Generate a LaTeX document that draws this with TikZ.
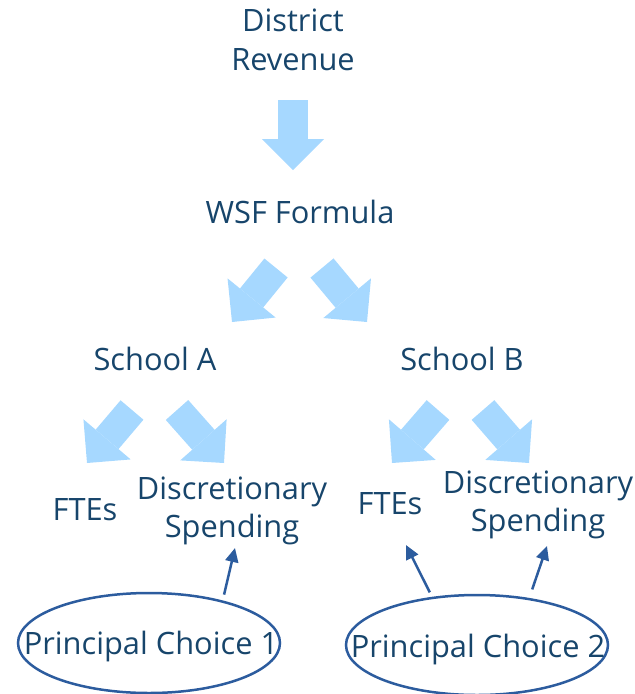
\documentclass[tikz,border=0pt]{standalone}
\usepackage{fontspec}
\setmainfont{Open Sans}
\usepackage{tikz}
\usetikzlibrary{shapes.geometric, arrows.meta, positioning}
\definecolor{ink}{HTML}{17456B}
\definecolor{flow}{HTML}{A6D8FF}
\definecolor{rim}{HTML}{2C5C9E}

\begin{document}
\begin{tikzpicture}[
        x=1pt, y=-1pt,
        word/.style={text=ink, align=center, inner sep=0pt, font=\fontsize{30.8}{38.5}\selectfont},
        choice/.style={ellipse, draw=rim, line width=2.5pt, minimum width=262pt, minimum height=100pt, inner sep=0pt},
        fat/.style={draw=flow, line width=30pt, line cap=butt, -{Triangle[length=31pt, width=62pt, line width=0pt]}},
        pick/.style={draw=rim, line width=2.5pt, -{Triangle[length=14pt, width=13pt]}}
    ]
        \useasboundingbox (0,0) rectangle (635,694);

        % Niveles de texto
        \node[word] (rev) at (293,40) {District\\Revenue};
        \node[word] (wsf) at (300,212) {WSF Formula};
        \node[word] (schA) at (155,359) {School A};
        \node[word] (schB) at (462,359) {School B};
        \node[word] (fteA) at (85,510) {FTEs};
        \node[word] (discA) at (232,511) {Discretionary\\Spending};
        \node[word] (fteB) at (390,504) {FTEs};
        \node[word] (discB) at (538,505) {Discretionary\\Spending};

        % Elipses de decision
        \node[choice] (pc1) at (149,643) {};
        \node[word] at (151,646) {Principal Choice 1};
        \node[choice] (pc2) at (477,645) {};
        \node[word] at (478,649) {Principal Choice 2};

        % Flechas anchas: cola (t) y punta (h)
        \coordinate (t1) at (293,100);  \coordinate (h1) at (293,170);
        \coordinate (t2) at (276,268);  \coordinate (h2) at (232,322);
        \coordinate (t3) at (322,268);  \coordinate (h3) at (367,322);
        \coordinate (t4) at (132,410);  \coordinate (h4) at (87,463);
        \coordinate (t5) at (177,410);  \coordinate (h5) at (224,463);
        \coordinate (t6) at (438,410);  \coordinate (h6) at (392,463);
        \coordinate (t7) at (483,410);  \coordinate (h7) at (529,463);
        \foreach \i in {1,...,7}
            \draw[fat] (t\i) -- (h\i);

        % Flechas finas desde las elipses
        \coordinate (p1) at (235,548);
        \coordinate (p2) at (406,545);
        \coordinate (p3) at (547,546);
        \draw[pick, shorten <=6pt] (pc1.30) -- (p1);
        \draw[pick, shorten <=5pt] (pc2.133) -- (p2);
        \draw[pick, shorten <=9pt] (pc2.42) -- (p3);

    \end{tikzpicture}
\end{document}
